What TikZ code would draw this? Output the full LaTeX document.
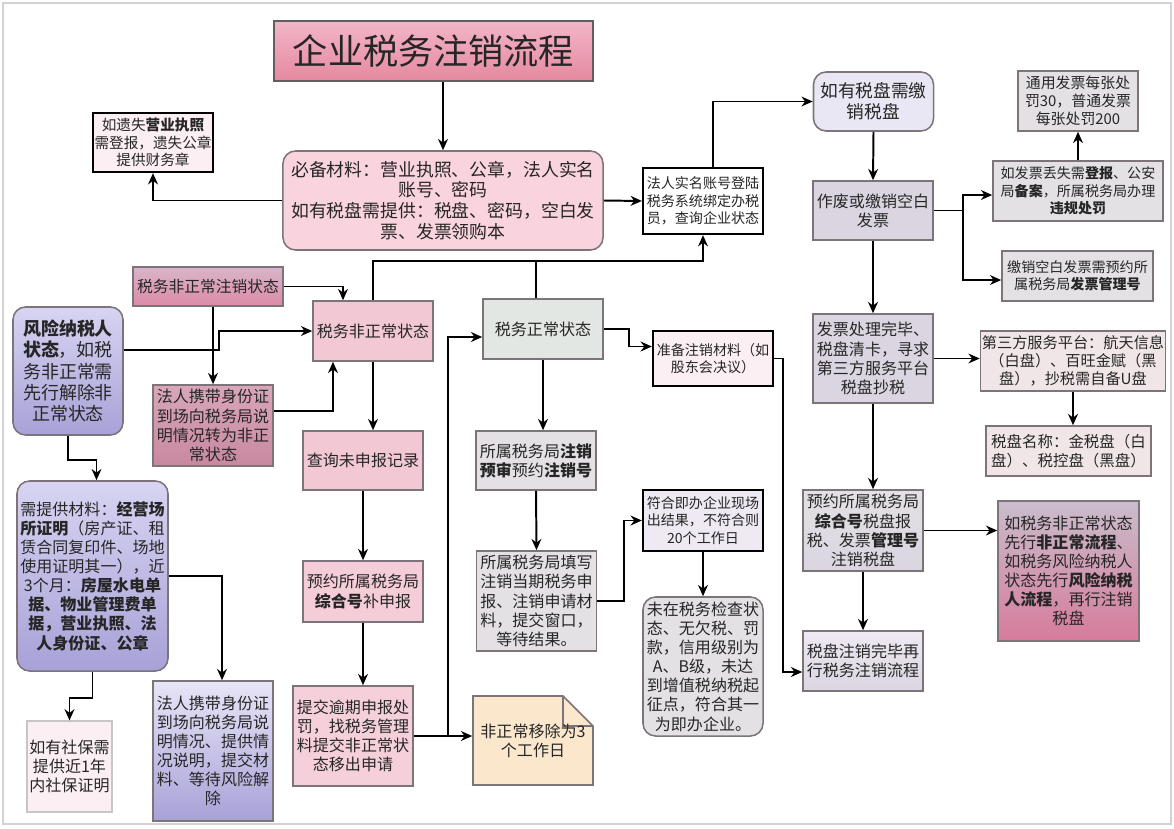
\documentclass[tikz,border=0pt]{standalone}
\usepackage{fontspec}
\newfontfamily\cjk{Noto Sans CJK SC}
\usetikzlibrary{arrows.meta}

\definecolor{txt}{HTML}{262626}
\definecolor{edge}{HTML}{7C7479}
\definecolor{ttop}{HTML}{F2B6C8}
\definecolor{tbot}{HTML}{E5889F}
\definecolor{matfill}{HTML}{F9D4DF}
\definecolor{palepink}{HTML}{FBEFF3}
\definecolor{lav}{HTML}{E9E7F4}
\definecolor{voidfill}{HTML}{DAD5E0}
\definecolor{grayfill}{HTML}{E3E1E4}
\definecolor{rosegray}{HTML}{F0E6E8}
\definecolor{pinkfill}{HTML}{F3C8D5}
\definecolor{normfill}{HTML}{E3E7E3}
\definecolor{remfill}{HTML}{FBE7CC}
\definecolor{okfill}{HTML}{EEE9F2}
\definecolor{purtop}{HTML}{D8D4F2}
\definecolor{purbot}{HTML}{A8A1D7}
\definecolor{mauvetop}{HTML}{D9A7BA}
\definecolor{mauvebot}{HTML}{C8889F}
\definecolor{warntop}{HTML}{C9BDCC}
\definecolor{warnbot}{HTML}{D77B9B}

\begin{document}
\begin{tikzpicture}
  [x=0.025cm, y=-0.025cm,
   >={Stealth[length=8pt,width=7pt]},
   box/.style={draw=edge, line width=1.1pt, align=center, inner sep=1pt, text=txt,
     font=\cjk\fontsize{11.4}{13.6}\selectfont},
   blk/.style={box, draw=black, line width=1.6pt},
   rbox/.style={box, rounded corners=9pt},
   sm/.style={font=\cjk\fontsize{10}{12.4}\selectfont},
   lg/.style={font=\cjk\fontsize{12.7}{14.8}\selectfont},
   link/.style={->, line width=1.4pt}]
  \useasboundingbox (0,0) rectangle (1174,828);
  \draw[gray!35, line width=0.8pt] (3,3) rectangle (1171,824);

  % top row
  \node[box, draw=edge!80!black, minimum width=7.975cm, minimum height=1.5cm, top color=ttop, bottom color=tbot,
    font=\cjk\fontsize{25}{28}\selectfont] (title) at (433.5,51) {企业税务注销流程};
  \node[blk, fill=palepink, minimum width=3cm, minimum height=1.475cm, font=\cjk\fontsize{10.4}{12.6}\selectfont]
    (lost) at (153,142.5) {如遗失\textbf{营业执照}\\需登报，遗失公章\\提供财务章};
  \node[rbox, lg, fill=matfill, minimum width=8cm, minimum height=2.475cm] (mat) at (443,200.5)
    {必备材料：营业执照、公章，法人实名\\账号、密码\\如有税盘需提供：税盘、密码，空白发\\票、发票领购本};
  \node[blk, sm, fill=white, minimum width=3cm, minimum height=1.65cm] (login) at (703,201)
    {法人实名账号登陆\\税务系统绑定办税\\员，查询企业状态};
  \node[rbox, fill=lav, minimum width=3cm, minimum height=1.475cm, font=\cjk\fontsize{12.6}{14.8}\selectfont]
    (disk) at (873.5,101.5) {如有税盘需缴\\销税盘};
  \node[box, fill=voidfill, minimum width=3cm, minimum height=1.475cm] (void) at (873,210.5) {作废或缴销空白\\发票};
  \node[box, fill=grayfill, minimum width=3cm, minimum height=1.5cm, font=\cjk\fontsize{10.6}{12.8}\selectfont]
    (fine) at (1078,101) {通用发票每张处\\罚30，普通发票\\每张处罚200};
  \node[box, sm, fill=grayfill, minimum width=4.25cm, minimum height=1.5cm] (loss) at (1078,191)
    {如发票丢失需\textbf{登报}、公安\\局\textbf{备案}，所属税务局办理\\\textbf{违规处罚}};
  \node[box, sm, fill=grayfill, minimum width=3.775cm, minimum height=1.25cm] (blank) at (1077.5,276)
    {缴销空白发票需预约所\\属税务局\textbf{发票管理号}};

  % right column
  \node[box, fill=voidfill, minimum width=3cm, minimum height=2.225cm] (done) at (873,358.5)
    {发票处理完毕、\\税盘清卡，寻求\\第三方服务平台\\税盘抄税};
  \node[box, fill=rosegray, minimum width=4.5cm, minimum height=1.5cm, font=\cjk\fontsize{10.8}{12.8}\selectfont]
    (third) at (1073,361) {第三方服务平台：航天信息\\（白盘）、百旺金赋（黑\\盘），抄税需自备U盘};
  \node[box, fill=rosegray, minimum width=4.125cm, minimum height=1.25cm, font=\cjk\fontsize{11}{13.4}\selectfont]
    (dname) at (1068.5,451) {税盘名称：金税盘（白\\盘）、税控盘（黑盘）};
  \node[box, top color=grayfill, bottom color=voidfill, minimum width=3cm, minimum height=2.025cm]
    (rpt) at (863,530.5) {预约所属税务局\\\textbf{综合号}税盘报\\税、发票\textbf{管理号}\\注销税盘};
  \node[box, top color=warntop, bottom color=warnbot, minimum width=3.525cm, minimum height=3.5cm]
    (warn) at (1068.5,571) {如税务非正常状态\\先行\textbf{非正常流程}、\\如税务风险纳税人\\状态先行\textbf{风险纳税}\\\textbf{人流程}，再行注销\\税盘};
  \node[box, top color=okfill, bottom color=voidfill, minimum width=3cm, minimum height=1.5cm]
    (fin) at (863,661) {税盘注销完毕再\\行税务注销流程};

  % left part
  \node[box, top color=mauvetop!70!purtop, bottom color=warnbot!80!pinkfill, minimum width=3.75cm, minimum height=0.975cm,
    font=\cjk\fontsize{11.2}{13.4}\selectfont] (ab) at (208,286.5) {税务非正常注销状态};
  \node[box, fill=pinkfill, minimum width=3cm, minimum height=1.5cm] (abn) at (373,331) {税务非正常状态};
  \node[rbox, top color=purtop, bottom color=purbot, minimum width=2.75cm, minimum height=3.2cm,
    font=\cjk\fontsize{12.8}{15.2}\selectfont] (risk) at (68,371)
    {\textbf{风险纳税人}\\\textbf{状态}，如税\\务非正常需\\先行解除非\\正常状态};
  \node[box, top color=mauvetop, bottom color=mauvebot, minimum width=3cm, minimum height=2.025cm]
    (id1) at (213,425.5) {法人携带身份证\\到场向税务局说\\明情况转为非正\\常状态};
  \node[box, fill=pinkfill, minimum width=3cm, minimum height=1.475cm] (query) at (363,460.5) {查询未申报记录};
  \node[box, fill=pinkfill!90!white, minimum width=3cm, minimum height=1.525cm] (book) at (363,591.5)
    {预约所属税务局\\\textbf{综合号}补申报};
  \node[box, fill=pinkfill!85!white, minimum width=3cm, minimum height=2.5cm] (late) at (353,736)
    {提交逾期申报处\\罚，找税务管理\\料提交非正常状\\态移出申请};
  \node[rbox, top color=purtop, bottom color=purbot, minimum width=3.775cm, minimum height=4.75cm]
    (need) at (92.5,576) {需提供材料：\textbf{经营场}\\\textbf{所证明}（房产证、租\\赁合同复印件、场地\\使用证明其一），近\\3个月：\textbf{房屋水电单}\\\textbf{据、物业管理费单}\\\textbf{据，营业执照、法}\\\textbf{人身份证、公章}};
  \node[box, top color=purtop!60!white, bottom color=purbot, minimum width=3cm, minimum height=3.5cm]
    (id2) at (213,751) {法人携带身份证\\到场向税务局说\\明情况、提供情\\况说明，提交材\\料、等待风险解\\除};
  \node[box, draw=gray!45, line width=0.8pt, fill=palepink, minimum width=2.125cm, minimum height=2.275cm]
    (ss) at (69.5,766.5) {如有社保需\\提供近1年\\内社保证明};

  % middle part
  \node[box, fill=normfill, minimum width=3cm, minimum height=1.5cm] (norm) at (543,329) {税务正常状态};
  \node[blk, sm, fill=palepink, minimum width=3cm, minimum height=1.375cm] (prep) at (713,358.5)
    {准备注销材料（如\\股东会决议）};
  \node[box, fill=grayfill, minimum width=3cm, minimum height=1.475cm] (pre) at (536,460.5)
    {所属税务局\textbf{注销}\\\textbf{预审}预约\textbf{注销号}};
  \node[box, fill=grayfill, minimum width=3cm, minimum height=2.5cm] (fill) at (536.5,601)
    {所属税务局填写\\注销当期税务申\\报、注销申请材\\料，提交窗口，\\等待结果。};
  \node[blk, sm, fill=okfill, minimum width=3cm, minimum height=1.525cm] (ok) at (703,520.5)
    {符合即办企业现场\\出结果，不符合则\\20个工作日};
  \node[rbox, fill=grayfill, minimum width=3cm, minimum height=3.475cm] (cond) at (703,666.5)
    {未在税务检查状\\态、无欠税、罚\\款，信用级别为\\A、B级，未达\\到增值税纳税起\\征点，符合其一\\为即办企业。};
  \filldraw[draw=edge, line width=1.1pt, fill=remfill] (473,696) -- (563,696) -- (593,726) -- (593,785) -- (473,785) -- cycle;
  \draw[edge, line width=1.1pt] (563,696) -- (563,726) -- (593,726);
  \node[box, draw=none, minimum width=3cm, minimum height=2.225cm] (rem) at (533,740.5) {非正常移除为3\\个工作日};

  % connectors
  \draw[link] (mat.north |- title.south) -- (mat.north);
  \draw[link] (mat.west) -| (lost.south);
  \draw[link] (mat.east) -- (login.west);
  \draw[link] ([xshift=0.25cm]login.north) |- (disk.west);
  \draw[link] (disk.south) -- (void.north);
  \coordinate (vb) at (963,210.5);
  \draw[line width=1.4pt] (void.east) -- (vb);
  \draw[link] (vb) |- ([yshift=-0.1cm]loss.west);
  \draw[link] (vb) |- ([yshift=-0.1cm]blank.west);
  \draw[link] (fine.south |- loss.north) -- (fine.south);
  \draw[link] (void.south) -- (done.north);
  \draw[link] (done.east) -- (done.east -| third.west);
  \draw[link] (third.south) -- (third.south |- dname.north);
  \draw[link] (done.south) -- (done.south |- rpt.north);
  \draw[link] (rpt.east) -- (rpt.east -| warn.west);
  \draw[link] (rpt.south) -- (fin.north);
  \coordinate (pr) at (783,672);
  \draw[link] (prep.east) -| (pr) -- (pr -| fin.west);

  \draw[link] (ab.east) -| ([xshift=-0.75cm]abn.north);
  \draw[link] (id1.north |- ab.south) -- (id1.north);
  \draw[link] ([yshift=0.525cm]risk.east) -- ++(95,0) |- (abn.west);
  \draw[link] ([yshift=0.36cm]id1.east) -| ([xshift=-1cm]abn.south);
  \draw[link] (risk.south) -- ++(0,24) -| ([xshift=0.1cm]need.north);
  \draw[link] (need.east) -| ([xshift=0.225cm]id2.north);
  \draw[link] (need.south) -- ++(0,26) -| (ss.north);
  \draw[link] (abn.south) -- (abn.south |- query.north);
  \coordinate (jn) at (703,261);
  \draw[link] (abn.north) |- (jn) -- (login.south);
  \draw[line width=1.4pt] ([xshift=-0.175cm]norm.north) |- (jn);
  \draw[link] (norm.east) -- ++(25,0) |- ([yshift=0.3cm]prep.west);
  \draw[link] (norm.south) -- (norm.south |- pre.north);
  \draw[link] (pre.south) -- (fill.north);
  \draw[link] (fill.east) -- ++(27,0) |- (ok.west);
  \draw[link] (ok.south) -- (cond.north);
  \draw[link] (query.south) -- (book.north);
  \draw[link] (book.south) -- (book.south |- late.north);
  \draw[link] (late.east) -- (late.east -| rem.west);
  \coordinate (lp) at (448,736);
  \draw[link] (lp) |- ([yshift=-0.2cm]norm.west);
\end{tikzpicture}
\end{document}
